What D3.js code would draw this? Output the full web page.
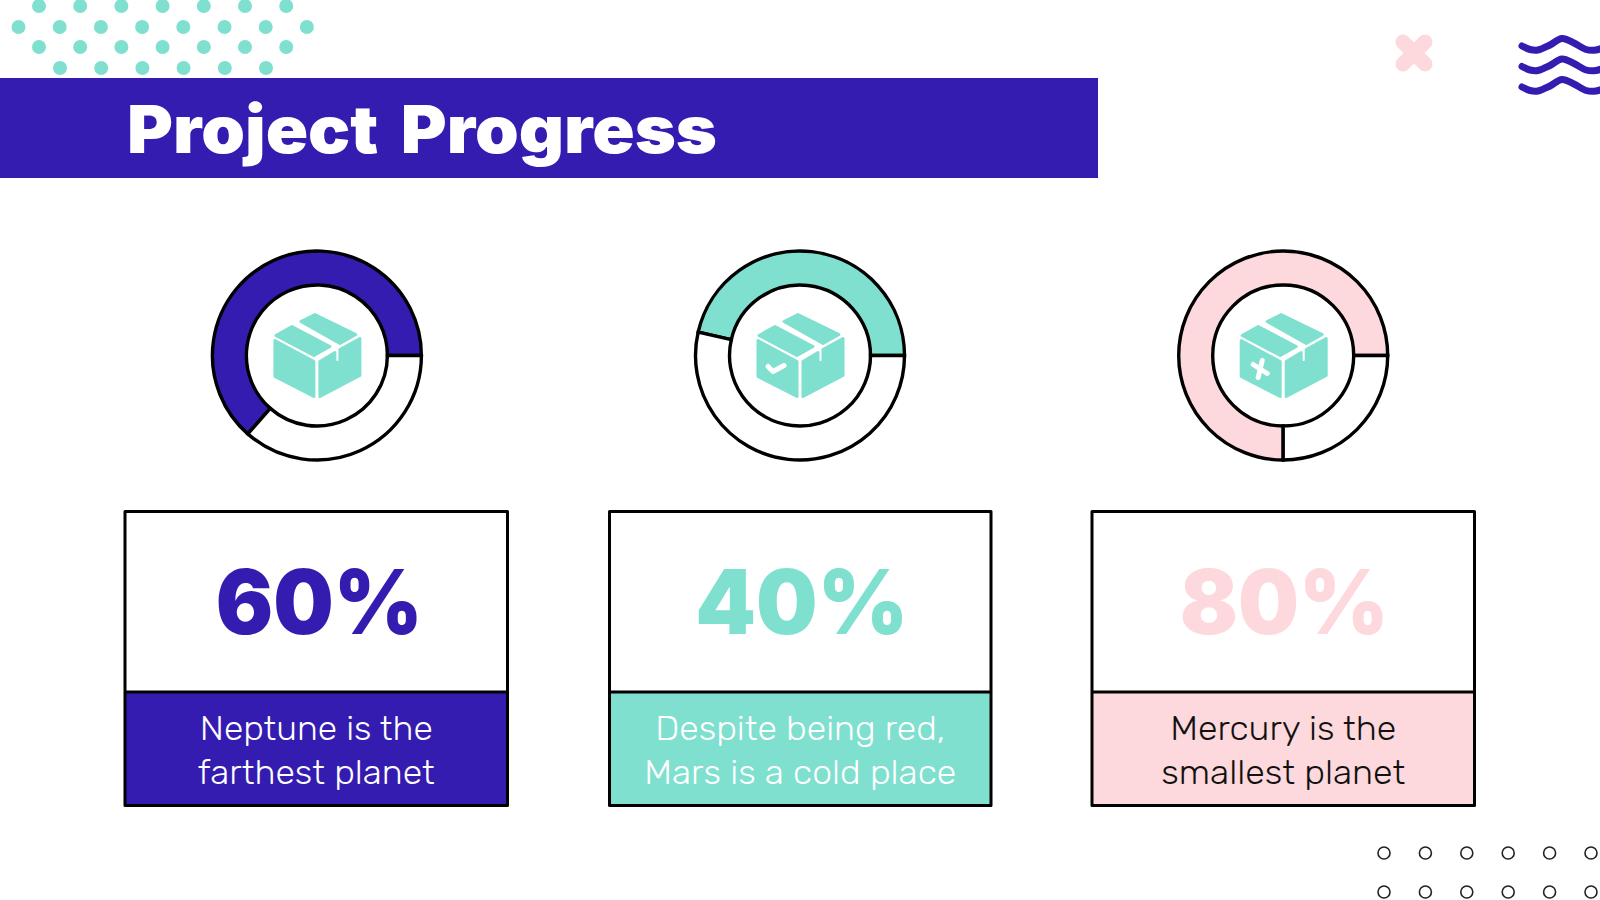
<!DOCTYPE html>
<html><head><meta charset="utf-8">
<script src="https://cdn.jsdelivr.net/npm/d3@7"></script>
<style>html,body{margin:0;padding:0;background:#fff}svg{display:block}</style>
</head><body><svg id="c" width="1600" height="900"></svg>
<script>
const planets = ["Neptune", "Mars", "Mercury"];
const percentLabels = ["60%", "40%", "80%"];
const ringFilled = [63.5, 46.4, 75];
const captions = [["Neptune is the", "farthest planet"], ["Despite being red,", "Mars is a cold place"], ["Mercury is the", "smallest planet"]];
const fills = ["#351cb0", "#7fe0cf", "#fdd8dc"];
const captionInk = ["#ffffff", "#ffffff", "#111111"];
const ringX = [316.9, 800, 1283.2];
const boxX = [125, 609.5, 1092];
const boxW = [382.5, 381.5, 382.5];
const percentWidth = [207, 213, 209];
const percentShift = [3, 1.5, 1];
const captionWidths = [[233, 237], [290, 312], [226, 244]];
const badge = ["none", "check", "cross"];

const navy = fills[0], teal = fills[1], pink = fills[2];
const svg = d3.select("#c");
const FONT = "Inter, sans-serif", BODY = "Rubik, Roboto, sans-serif";

const dotRows = [[6, 39, 7], [27, 18.5, 8], [47, 39, 7], [68, 60, 6]];
dotRows.forEach(([y, x0, n]) => svg.append("g").selectAll("circle").data(d3.range(n)).join("circle")
  .attr("cx", i => x0 + i * 41.2).attr("cy", y).attr("r", 7).attr("fill", teal));

svg.append("rect").attr("x", 0).attr("y", 78).attr("width", 1098).attr("height", 100).attr("fill", navy);
svg.append("text").attr("x", 127).attr("y", 153).attr("font-family", FONT).attr("font-weight", 900)
  .attr("font-size", 66).attr("fill", "#fff").attr("word-spacing", 8).attr("textLength", 590).attr("lengthAdjust", "spacingAndGlyphs")
  .text("Project Progress");

[[-11, -11, 11, 11], [-11, 11, 11, -11]].forEach(([a, b, c, d]) => svg.append("line")
  .attr("x1", 1414 + a).attr("y1", 53 + b).attr("x2", 1414 + c).attr("y2", 53 + d)
  .attr("stroke", pink).attr("stroke-width", 15).attr("stroke-linecap", "round"));

const wavePts = [[1522, 46], [1530, 49.5], [1538, 50], [1550, 45], [1562, 38.5], [1574, 43], [1586, 49.5], [1596, 50], [1612, 44]];
const waveLine = d3.line().curve(d3.curveCatmullRom);
[0, 20.5, 41].forEach(dy => svg.append("path")
  .attr("d", waveLine(wavePts.map(([x, y]) => [x, y + dy])))
  .attr("fill", "none").attr("stroke", navy).attr("stroke-width", 7).attr("stroke-linecap", "round"));

[853, 892].forEach(y => svg.append("g").selectAll("circle").data(d3.range(6)).join("circle")
  .attr("cx", i => 1384 + i * 41.4).attr("cy", y).attr("r", 6).attr("fill", "none")
  .attr("stroke", "#222").attr("stroke-width", 1.6));

const angle = d3.scaleLinear().domain([0, 100]).range([Math.PI / 2, -1.5 * Math.PI]);
const arc = d3.arc().innerRadius(70.5).outerRadius(104.5);
const iconLine = d3.line().curve(d3.curveLinearClosed);
const iconShapes = [
  [[-41, -20], [-25, -29], [13, -9], [-3, 0]],
  [[-16, -34], [-2, -41], [39, -21], [23, -12]],
  [[-42, -15], [-3, 6], [-3, 41], [-42, 21]],
  [[3, 6], [18, -3], [18, 5], [19, 7], [22, 7], [23, 5], [23, -6], [43, -17], [43, 20], [3, 41]]
];
const badgePaths = {
  check: [[[-32, 11], [-27, 16], [-16, 10]]],
  cross: [[[-30, 9], [-16, 18]], [[-21, 5], [-25, 22]]]
};
planets.forEach((p, i) => {
  const g = svg.append("g").attr("transform", `translate(${ringX[i]},355.5)`);
  const ends = [[0, ringFilled[i], fills[i]], [ringFilled[i], 100, "#fff"]];
  g.selectAll("path.seg").data(ends).join("path").attr("class", "seg")
    .attr("d", ([a, b]) => arc({startAngle: angle(b), endAngle: angle(a)}))
    .attr("fill", d => d[2]).attr("stroke", "#000").attr("stroke-width", 3.4);
  iconShapes.forEach(s => g.append("path").attr("d", iconLine(s)).attr("fill", teal)
    .attr("stroke", teal).attr("stroke-width", 3).attr("stroke-linejoin", "round"));
  (badgePaths[badge[i]] || []).forEach(s => g.append("path").attr("d", d3.line()(s)).attr("fill", "none")
    .attr("stroke", "#fff").attr("stroke-width", 5).attr("stroke-linecap", "round").attr("stroke-linejoin", "round"));
});

planets.forEach((p, i) => {
  const g = svg.append("g").attr("transform", `translate(${boxX[i]},0)`);
  const w = boxW[i], cx = w / 2;
  g.append("rect").attr("x", 0).attr("y", 692).attr("width", w).attr("height", 113.5).attr("fill", fills[i]);
  g.append("rect").attr("x", 0).attr("y", 511.5).attr("width", w).attr("height", 294).attr("fill", "none")
    .attr("stroke", "#000").attr("stroke-width", 3).attr("stroke-linejoin", "round");
  g.append("line").attr("x1", 0).attr("x2", w).attr("y1", 692).attr("y2", 692).attr("stroke", "#000").attr("stroke-width", 3);
  g.append("text").attr("x", cx + percentShift[i]).attr("y", 634).attr("text-anchor", "middle").attr("font-family", FONT)
    .attr("font-weight", 900).attr("font-size", 89).attr("fill", fills[i])
    .attr("textLength", percentWidth[i]).attr("lengthAdjust", "spacingAndGlyphs").text(percentLabels[i]);
  captions[i].forEach((t, k) => g.append("text").attr("x", cx).attr("y", 740 + k * 43.5)
    .attr("text-anchor", "middle").attr("font-family", BODY).attr("font-weight", 300).attr("font-size", 34)
    .attr("fill", captionInk[i]).attr("textLength", captionWidths[i][k]).attr("lengthAdjust", "spacingAndGlyphs").text(t));
});
</script></body></html>
